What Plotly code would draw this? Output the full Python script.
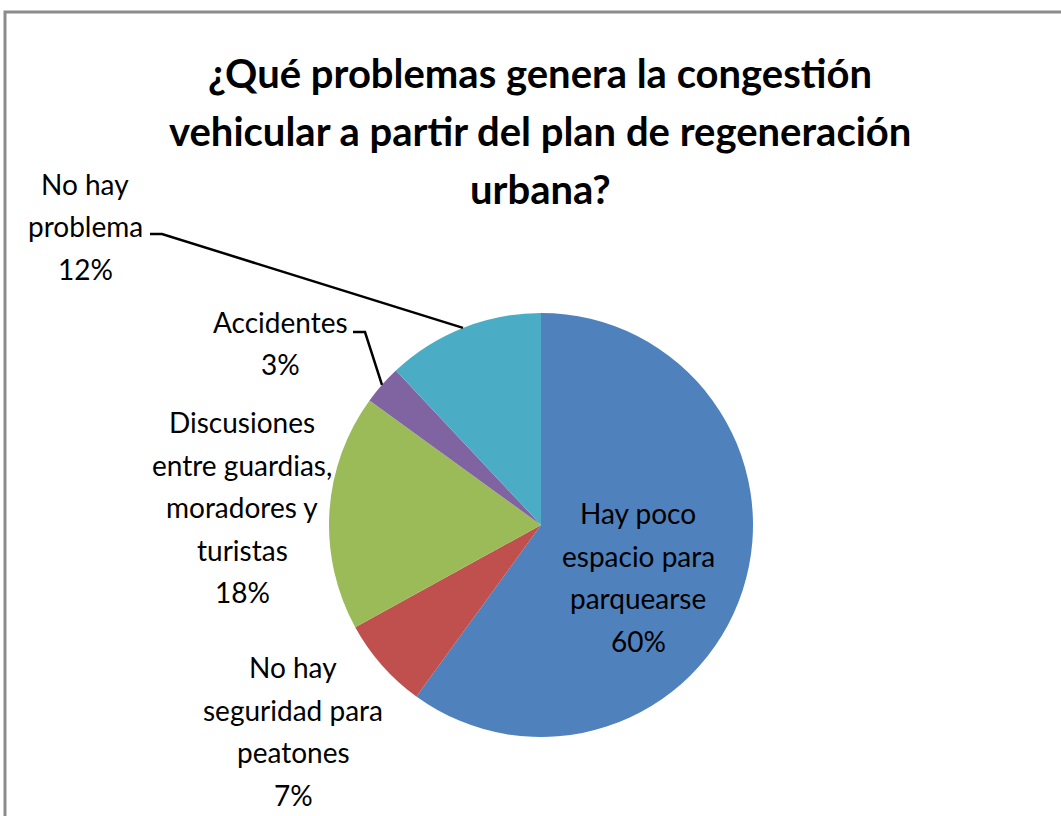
import math
import plotly.graph_objects as go

W, H = 1061, 816

# data
categorias = [
    "Hay poco espacio para parquearse",
    "No hay seguridad para peatones",
    "Discusiones entre guardias, moradores y turistas",
    "Accidentes",
    "No hay problema",
]
porcentajes = [60, 7, 18, 3, 12]
lineas_etiqueta = [
    ["Hay poco", "espacio para", "parquearse"],
    ["No hay", "seguridad para", "peatones"],
    ["Discusiones", "entre guardias,", "moradores y", "turistas"],
    ["Accidentes"],
    ["No hay", "problema"],
]
titulo = [
    "¿Qué problemas genera la congestión",
    "vehicular a partir del plan de regeneración",
    "urbana?",
]
colores = ["#4F81BD", "#C0504D", "#9BBB59", "#8064A2", "#4BACC6"]

# layout helpers (pixels)
cx, cy, R = 541, 525, 212
pos_etiqueta = [(638, 513), (293, 667), (242, 422), (280, 322), (85, 184)]
con_guia = {3: (353, 332), 4: (150, 234)}
paso = 42.5
fuente = "Lato, 'Open Sans', sans-serif"


def px(x):
    return x / W


def py(y):
    return 1 - y / H


fig = go.Figure()
fig.add_trace(go.Pie(
    labels=categorias,
    values=porcentajes,
    sort=False,
    direction="clockwise",
    rotation=0,
    textinfo="none",
    hoverinfo="label+percent",
    marker=dict(colors=colores, line=dict(width=0)),
    domain=dict(x=[px(cx - R), px(cx + R)], y=[py(cy + R), py(cy - R)]),
    showlegend=False,
))

anots = []
for i, linea in enumerate(titulo):
    anots.append(dict(
        text=linea, x=px(540), y=py(73), yshift=-i * 58,
        xref="paper", yref="paper", showarrow=False,
        xanchor="center", yanchor="middle",
        font=dict(family=fuente, size=40, color="#000000", weight="bold"),
    ))

total = sum(porcentajes)
acum = 0
shapes = []
for k, (lineas, valor) in enumerate(zip(lineas_etiqueta, porcentajes)):
    pct = round(100 * valor / total)
    textos = lineas + [f"{pct}%"]
    x0, y0 = pos_etiqueta[k]
    for j, t in enumerate(textos):
        anots.append(dict(
            text=t, x=px(x0), y=py(y0), yshift=-j * paso,
            xref="paper", yref="paper", showarrow=False,
            xanchor="center", yanchor="middle",
            font=dict(family=fuente, size=28, color="#000000"),
        ))
    medio = (acum + valor / 2) / total * 2 * math.pi
    acum += valor
    if k in con_guia:
        sx, sy = con_guia[k]
        ex = cx + R * math.sin(medio)
        ey = cy - R * math.cos(medio)
        shapes.append(dict(
            type="path", xref="paper", yref="paper",
            path=f"M {px(sx)} {py(sy)} L {px(sx + 12)} {py(sy)} L {px(ex)} {py(ey)}",
            line=dict(color="#000000", width=2.5),
        ))

# outer chart frame
shapes.append(dict(
    type="rect", xref="paper", yref="paper",
    x0=px(5), x1=px(W + 30), y0=py(H + 30), y1=py(12),
    line=dict(color="#8C8C8C", width=3), fillcolor="rgba(0,0,0,0)",
))

fig.update_layout(
    width=W, height=H,
    margin=dict(l=0, r=0, t=0, b=0),
    paper_bgcolor="white",
    plot_bgcolor="white",
    annotations=anots,
    shapes=shapes,
)

fig.write_html("out.html", config={"displayModeBar": False},
               post_script="document.body.style.margin='0px';")
